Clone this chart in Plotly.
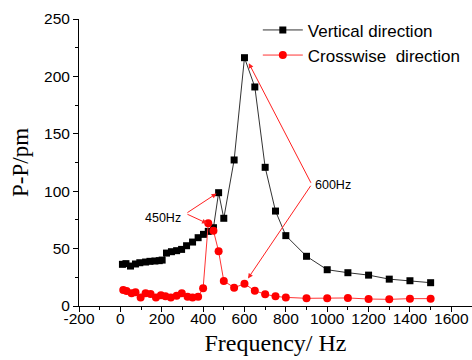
import plotly.graph_objects as go

# Vertical direction (black squares)
vert_freq = [10, 27, 49, 73, 94, 122, 143, 167, 188, 202, 223, 247, 272, 296, 320, 349, 376, 402, 425,
             450, 475, 500, 550, 600, 650, 700, 750, 800, 900, 1000, 1100, 1200, 1300, 1400, 1500]
vert_pp = [36.3, 36.9, 34.8, 36.6, 37.7, 38.3, 38.9, 39.2, 39.5, 40.0, 46.1, 47.3, 48.2, 49.3, 52.5, 55.7, 59.5, 62.4, 65.0,
           68.2, 98.7, 76.4, 127.2, 216.3, 190.8, 120.8, 82.7, 61.3, 43.3, 31.6, 29.0, 26.9, 23.4, 22.0, 20.3]

# Crosswise direction (red circles)
cross_freq = [14, 30, 54, 73, 98, 122, 146, 172, 196, 218, 244, 272, 297, 325, 349, 376, 400,
              425, 450, 475, 500, 550, 600, 650, 700, 750, 800, 900, 1000, 1100, 1200, 1300, 1400, 1500]
cross_pp = [13.9, 13.1, 11.0, 11.9, 7.3, 11.0, 10.4, 7.5, 9.3, 8.4, 7.5, 9.0, 11.0, 8.1, 7.5, 8.1, 15.4,
            72.0, 65.6, 47.6, 21.8, 16.0, 19.3, 13.3, 10.2, 8.4, 7.5, 6.7, 6.7, 7.0, 6.1, 5.8, 6.4, 6.4]

x_tick_vals = [-200, 0, 200, 400, 600, 800, 1000, 1200, 1400, 1600]
x_tick_text = ["-200", "0", "200", "400", "600", "800", "1000", "1200", "1400", "1600"]
x_range = [-200, 1700]
y_range = [0, 250]

fig = go.Figure()
fig.add_trace(go.Scatter(
    x=vert_freq, y=vert_pp, mode="lines+markers", name="Vertical direction",
    line=dict(color="#333333", width=1),
    marker=dict(symbol="square", size=7, color="black"),
))
fig.add_trace(go.Scatter(
    x=cross_freq, y=cross_pp, mode="lines+markers", name="Crosswise  direction",
    line=dict(color="#ff3333", width=1),
    marker=dict(symbol="circle", size=8, color="#ff0000"),
))

arrow_style = dict(showarrow=True, arrowhead=2, arrowsize=1, arrowwidth=1,
                   arrowcolor="#ff2020", axref="x", ayref="y", text="")
# 450Hz annotation
fig.add_annotation(x=303, y=77, text="450Hz", showarrow=False, xanchor="right", yanchor="middle",
                   font=dict(family="Liberation Sans, Arial", size=12.5, color="black"))
fig.add_annotation(x=465, y=98, ax=317, ay=80.5, **arrow_style)
fig.add_annotation(x=419, y=72, ax=317, ay=80.5, **arrow_style)
# 600Hz annotation
fig.add_annotation(x=932, y=105.5, text="600Hz", showarrow=False, xanchor="left", yanchor="middle",
                   font=dict(family="Liberation Sans, Arial", size=12.5, color="black"))
fig.add_annotation(x=621, y=211.5, ax=925, ay=106, **arrow_style)
fig.add_annotation(x=617, y=24, ax=925, ay=106, **arrow_style)

fig.update_layout(
    width=472, height=360,
    margin=dict(l=79, r=0, t=19, b=54),
    paper_bgcolor="white", plot_bgcolor="white",
    font=dict(family="Liberation Sans, Arial", size=15.5, color="black"),
    showlegend=True,
    legend=dict(x=0.455, y=1.023, xanchor="left", yanchor="top",
                bgcolor="rgba(0,0,0,0)", font=dict(size=17),
                tracegroupgap=0, itemwidth=40),
    xaxis=dict(range=x_range, tickvals=x_tick_vals, ticktext=x_tick_text,
               showgrid=False, zeroline=False,
               showline=True, linecolor="black", linewidth=1,
               ticks="outside", ticklen=5, tickcolor="black", ticklabelstandoff=-7,
               minor=dict(ticks="outside", ticklen=3, dtick=100, tickcolor="black"),
               title=dict(text="Frequency/ Hz", standoff=8,
                          font=dict(family="Liberation Serif, Times New Roman", size=24))),
    yaxis=dict(range=y_range, dtick=50, showgrid=False, zeroline=False,
               showline=True, linecolor="black", linewidth=1,
               ticks="outside", ticklen=5, tickcolor="black",
               minor=dict(ticks="outside", ticklen=3, dtick=25, tickcolor="black"),
               title=dict(text="P-P/pm", standoff=8,
                          font=dict(family="Liberation Serif, Times New Roman", size=23))),
)

fig.write_html("out.html")
